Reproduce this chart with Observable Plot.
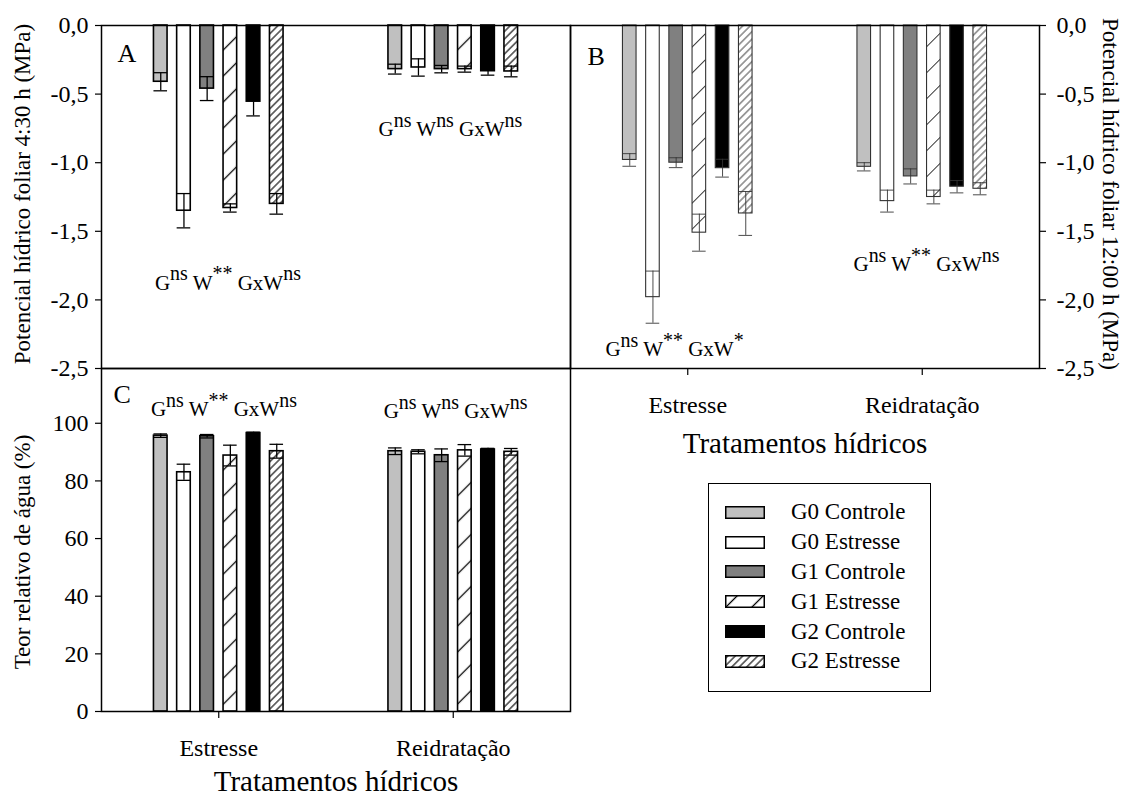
<!DOCTYPE html>
<html><head><meta charset="utf-8">
<script src="https://cdn.jsdelivr.net/npm/d3@7"></script>
<script src="https://cdn.jsdelivr.net/npm/@observablehq/plot@0.6"></script>
<style>
body{margin:0;background:#fff;}
#fig{position:relative;width:1126px;height:798px;overflow:hidden;font-family:"Liberation Serif","Times New Roman",serif;color:#000;}
.panel{position:absolute;}
#legend{position:absolute;left:708px;top:483px;width:223px;height:209px;box-sizing:border-box;border:1.5px solid #000;padding:13.5px 0 0 15.5px;font-size:23px;}
#legend .row{display:flex;align-items:center;height:29.8px;}
#legend .row svg{margin-right:26.5px;flex:none;}
</style></head>
<body>
<svg width="0" height="0" style="position:absolute">
<defs>
<pattern id="hs" patternUnits="userSpaceOnUse" width="18.4" height="18.4" patternTransform="rotate(45)"><rect width="18.4" height="18.4" fill="#fff"/><line x1="9.2" y1="0" x2="9.2" y2="18.4" stroke="#000" stroke-width="1.3"/></pattern>
<pattern id="hd" patternUnits="userSpaceOnUse" width="5.3" height="5.3" patternTransform="rotate(45)"><rect width="5.3" height="5.3" fill="#fff"/><line x1="2.65" y1="0" x2="2.65" y2="5.3" stroke="#000" stroke-width="1.1"/></pattern>
<pattern id="hsB" patternUnits="userSpaceOnUse" width="18.4" height="18.4" patternTransform="rotate(45)"><rect width="18.4" height="18.4" fill="#fff"/><line x1="9.2" y1="0" x2="9.2" y2="18.4" stroke="#333" stroke-width="1"/></pattern>
<pattern id="hdB" patternUnits="userSpaceOnUse" width="5.3" height="5.3" patternTransform="rotate(45)"><rect width="5.3" height="5.3" fill="#fff"/><line x1="2.65" y1="0" x2="2.65" y2="5.3" stroke="#333" stroke-width="0.9"/></pattern>
</defs>
</svg>
<div id="fig"></div>
<script>
// ---------------- data ----------------
const categories = ["Estresse", "Reidratação"];
const treatments = ["G0 Controle", "G0 Estresse", "G1 Controle", "G1 Estresse", "G2 Controle", "G2 Estresse"];

// A: Potencial hídrico foliar 4:30 h (MPa)
const psi430Estresse   = [-0.41, -1.35, -0.46, -1.33, -0.555, -1.30];
const psi430EstresseSE = [0.066, 0.125, 0.087, 0.03, 0.104, 0.075];
const psi430Reidr      = [-0.318, -0.306, -0.318, -0.318, -0.333, -0.335];
const psi430ReidrSE    = [0.036, 0.063, 0.027, 0.022, 0.029, 0.039];

// B: Potencial hídrico foliar 12:00 h (MPa)
const psi1200Estresse   = [-0.98, -1.98, -1.0, -1.51, -1.04, -1.37];
const psi1200EstresseSE = [0.046, 0.19, 0.036, 0.135, 0.065, 0.16];
const psi1200Reidr      = [-1.03, -1.28, -1.10, -1.25, -1.175, -1.19];
const psi1200ReidrSE    = [0.03, 0.08, 0.055, 0.05, 0.045, 0.044];

// C: Teor relativo de água (%)
const traEstresse   = [95.7, 83.0, 95.5, 88.8, 96.6, 90.3];
const traEstresseSE = [0.6, 2.8, 0.6, 3.6, 0.3, 2.4];
const traReidr      = [90.3, 90.1, 88.9, 90.6, 90.9, 90.1];
const traReidrSE    = [1.15, 0.7, 2.2, 2.0, 0.4, 1.15];

// significance labels ({} = superscript)
const sigA = ["G{ns} W{**} GxW{ns}", "G{ns} W{ns} GxW{ns}"];
const sigB = ["G{ns} W{**} GxW{*}", "G{ns} W{**} GxW{ns}"];
const sigC = ["G{ns} W{**} GxW{ns}", "G{ns} W{ns} GxW{ns}"];

const psiTicks = [0, -0.5, -1.0, -1.5, -2.0, -2.5];
const traTicks = [0, 20, 40, 60, 80, 100];

// ---------------- helpers ----------------
function table(est, estSE, rei, reiSE) {
  const vals = [est, rei], ses = [estSE, reiSE];
  return categories.flatMap((c, ci) => treatments.map((t, ti) => ({cat: c, ci, trt: t, ti, v: vals[ci][ti], se: ses[ci][ti]})));
}
const STEP = 23.2 / 234.5, HALF = 6.8 / 234.5;
const xc = d => d.ci + 0.5 + (d.ti - 2.5) * STEP;
const x1 = d => xc(d) - HALF, x2 = d => xc(d) + HALF;
const fillsMain = ["#c0c0c0", "#ffffff", "#808080", "url(#hs)", "#000000", "url(#hd)"];
const fillsB = ["#c0c0c0", "#ffffff", "#808080", "url(#hsB)", "#000000", "url(#hdB)"];
const commaFmt = d => d.toFixed(1).replace(".", ",");
const FONT = '"Liberation Serif", "Times New Roman", serif';

function supify(svg, fontSize) {
  d3.select(svg).selectAll("text").each(function () {
    const s = this.textContent;
    if (!s.includes("{")) return;
    const node = d3.select(this);
    node.text(null);
    const raise = fontSize * 0.45;
    const re = /([^{]*)\{([^}]*)\}/g;
    let m, first = true, lastIdx = 0;
    while ((m = re.exec(s))) {
      const b = node.append("tspan").text(m[1]);
      if (!first) b.attr("dy", raise);
      node.append("tspan").attr("dy", -raise).attr("font-size", fontSize * 0.95).text(m[2]);
      first = false; lastIdx = re.lastIndex;
    }
    if (lastIdx < s.length) node.append("tspan").attr("dy", raise).text(s.slice(lastIdx));
  });
}

function panel(o) {
  const marks = [
    Plot.rect(o.data, {x1, x2, y1: 0, y2: "v", fill: "trt", stroke: o.stroke, strokeWidth: o.sw}),
    Plot.ruleX(o.data, {x: xc, y1: d => d.v - d.se, y2: d => d.v + d.se, stroke: o.stroke, strokeWidth: o.sw * 0.8}),
    Plot.ruleY(o.data, {x1, x2, y: d => d.v - d.se, stroke: o.stroke, strokeWidth: o.sw * 0.8}),
    Plot.ruleY(o.data, {x1, x2, y: d => d.v + d.se, stroke: o.stroke, strokeWidth: o.sw * 0.8}),
    Plot.frame({stroke: "#000", strokeWidth: 1.5}),
    Plot.axisY({anchor: o.yAnchor, ticks: o.yTicks, tickFormat: o.yFmt, tickSize: 6, tickPadding: o.yAnchor === "left" ? 7 : 11, label: null, strokeWidth: 1.2}),
    Plot.text([o.yTitle], {text: d => d, frameAnchor: o.yAnchor, rotate: o.yAnchor === "left" ? -90 : 90,
      dx: o.yTitleDx, dy: o.yTitleDy || 0, textAnchor: "middle", lineAnchor: "middle", fontSize: 23}),
    Plot.text([o.letter], {text: d => d, frameAnchor: "top-left", dx: o.letterDx, dy: o.letterDy, fontSize: 26, textAnchor: "start", lineAnchor: "top"}),
    Plot.text(o.sig.map((t, i) => ({t, x: o.sigX[i], y: o.sigY[i]})), {x: "x", y: "y", text: "t", fontSize: 21, textAnchor: "middle", lineAnchor: "bottom"})
  ];
  if (o.xAxis) {
    marks.push(Plot.axisX({ticks: [0.5, 1.5], tickFormat: d => categories[Math.round(d - 0.5)], tickSize: 7, tickPadding: 20, label: null, strokeWidth: 1.2}));
    marks.push(Plot.text(["Tratamentos hídricos"], {text: d => d, frameAnchor: "bottom", dy: o.xTitleDy, fontSize: 29, textAnchor: "middle", lineAnchor: "bottom"}));
  }
  const svg = Plot.plot({
    width: o.width, height: o.height,
    marginLeft: o.ml, marginRight: o.mr, marginTop: o.mt, marginBottom: o.mb,
    x: {domain: [0, 2], axis: null},
    y: {domain: o.yDomain, axis: null},
    color: {domain: treatments, range: o.fills},
    style: {fontFamily: FONT, fontSize: "24px", background: "transparent", overflow: "visible", color: "#000"},
    marks
  });
  supify(svg, 21);
  const div = d3.select("#fig").append("div").attr("class", "panel").style("left", o.left + "px").style("top", o.top + "px");
  div.node().appendChild(svg);
}

// Panel A
panel({
  data: table(psi430Estresse, psi430EstresseSE, psi430Reidr, psi430ReidrSE),
  left: 0, top: 0, width: 570, height: 368, ml: 101, mr: 0, mt: 25, mb: 0,
  yDomain: [-2.5, 0], yTicks: psiTicks, yFmt: commaFmt, yAnchor: "left",
  yTitle: "Potencial hídrico foliar 4:30 h (MPa)", yTitleDx: -79, yTitleDy: -3,
  letter: "A", letterDx: 16, letterDy: 18,
  sig: sigA, sigX: [0.539, 1.488], sigY: [-1.927, -0.806],
  fills: fillsMain, stroke: "#000", sw: 1.6, xAxis: false
});

// Panel B
panel({
  data: table(psi1200Estresse, psi1200EstresseSE, psi1200Reidr, psi1200ReidrSE),
  left: 570, top: 0, width: 556, height: 470, ml: 0, mr: 87, mt: 25, mb: 102,
  yDomain: [-2.5, 0], yTicks: psiTicks, yFmt: commaFmt, yAnchor: "right",
  yTitle: "Potencial hídrico foliar 12:00 h (MPa)", yTitleDx: 71, yTitleDy: -3,
  letter: "B", letterDx: 17, letterDy: 21,
  sig: sigB, sigX: [0.4435, 1.518], sigY: [-2.412, -1.793],
  fills: fillsB, stroke: "#333", sw: 1.1, xAxis: true, xTitleDy: 84
});

// Panel C
panel({
  data: table(traEstresse, traEstresseSE, traReidr, traReidrSE),
  left: 0, top: 368, width: 570, height: 430, ml: 101, mr: 0, mt: 0, mb: 87,
  yDomain: [0, 119], yTicks: traTicks, yFmt: d => String(d), yAnchor: "left",
  yTitle: "Teor relativo de água (%)", yTitleDx: -79, yTitleDy: 12,
  letter: "C", letterDx: 12, letterDy: 16,
  sig: sigC, sigX: [0.522, 1.51], sigY: [102.4, 101.8],
  fills: fillsMain, stroke: "#000", sw: 1.6, xAxis: true, xTitleDy: 79
});

// Legend
const legend = d3.select("#fig").append("div").attr("id", "legend");
treatments.forEach((t, i) => {
  const row = legend.append("div").attr("class", "row");
  const s = row.append("svg").attr("width", 40).attr("height", 13);
  s.append("rect").attr("x", 0.75).attr("y", 0.75).attr("width", 38.5).attr("height", 11.5)
    .attr("fill", fillsMain[i]).attr("stroke", "#000").attr("stroke-width", 1.5);
  row.append("span").text(t);
});
</script>
</body></html>
